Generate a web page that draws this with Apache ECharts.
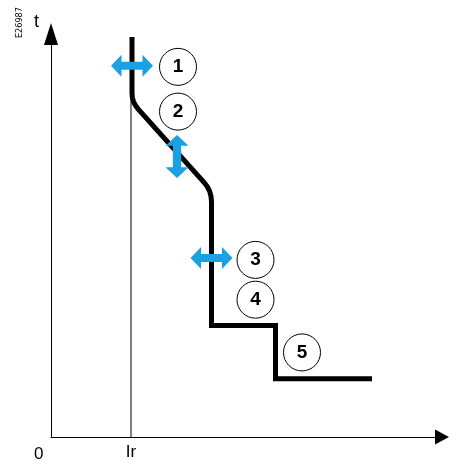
<!DOCTYPE html>
<html>
<head>
    <meta charset="utf-8">
    <title></title>
    <script src="https://cdn.jsdelivr.net/npm/echarts@6/dist/echarts.min.js"></script>
    <style>
        html, body { margin: 0; padding: 0; background: #fff; }
        #main { width: 449px; height: 461px; }
    </style>
</head>
<body>
<div id="main"></div>
<script type="text/javascript">
    // tripping curve (current, time) in chart units
    var curveX = [81, 81, 81.4, 82.5, 84.4, 87, 153.2, 156.4, 158.7, 160, 160.5, 160.5, 224.5, 224.5, 321];
    var curveY = [402, 345.5, 341.1, 337.1, 333.3, 329.8, 255.7, 251.4, 246.8, 241.8, 236.5, 112, 112, 58.5, 58.5];
    var irValue = 80;
    var irTop = 345;
    // numbered settings markers
    var markerNames = ['1', '2', '3', '4', '5'];
    var markerX = [127, 127, 204.5, 204.5, 251];
    var markerY = [372, 327, 178, 138, 85];
    // adjustment arrows: horizontal / vertical
    var hArrowX = [81, 160.5];
    var hArrowY = [373, 180];
    var vArrowX = [126];
    var vArrowY = [282];

    var blue = '#1ba1e2';
    var hArrow = 'path://M0,11 L11,0 L11,7 L33,7 L33,0 L44,11 L33,22 L33,15 L11,15 L11,22 Z';
    var vArrow = 'path://M11,0 L22,11 L15,11 L15,33 L22,33 L11,44 L0,33 L7,33 L7,11 L0,11 Z';

    function zip(xs, ys) {
        return xs.map(function (x, i) { return [x, ys[i]]; });
    }

    var chart = echarts.init(document.getElementById('main'));
    var option = {
        animation: false,
        grid: { left: 51, right: 7, top: 34, bottom: 22 },
        xAxis: {
            type: 'value',
            min: 0,
            max: 391,
            splitLine: { show: false },
            axisTick: { show: false },
            axisLine: {
                symbol: ['none', 'triangle'],
                symbolSize: [15, 14],
                lineStyle: { color: '#000', width: 1 }
            },
            axisLabel: {
                customValues: [irValue],
                formatter: function () { return 'Ir'; },
                color: '#000',
                fontSize: 17,
                fontFamily: 'Liberation Sans',
                margin: 7
            }
        },
        yAxis: {
            type: 'value',
            min: 0,
            max: 405,
            splitLine: { show: false },
            axisTick: { show: false },
            axisLabel: { show: false },
            axisLine: {
                symbol: ['none', 'triangle'],
                symbolSize: [14, 22],
                lineStyle: { color: '#000', width: 1 }
            }
        },
        graphic: [
            { type: 'text', left: 34, top: 446, style: { text: '0', fontSize: 17, fontFamily: 'Liberation Sans', fill: '#000' } },
            { type: 'text', left: 34, top: 13, style: { text: 't', fontSize: 18, fontFamily: 'Liberation Sans', fill: '#000' } },
            { type: 'text', x: 15, y: 38, rotation: Math.PI / 2, style: { text: 'E26987', fontSize: 9, fontFamily: '"DejaVu Sans Condensed", "Liberation Sans", sans-serif', fill: '#000' } }
        ],
        series: [
            {
                type: 'line',
                data: [[irValue, 0], [irValue, irTop]],
                showSymbol: false,
                lineStyle: { color: '#000', width: 1 },
                z: 1
            },
            {
                type: 'line',
                data: zip(curveX, curveY),
                showSymbol: false,
                lineStyle: { color: '#000', width: 5, cap: 'butt', join: 'miter' },
                z: 2
            },
            {
                type: 'scatter',
                data: zip(hArrowX, hArrowY),
                symbol: hArrow,
                symbolSize: [42, 22],
                itemStyle: { color: blue, opacity: 1 },
                z: 3
            },
            {
                type: 'scatter',
                data: zip(vArrowX, vArrowY),
                symbol: vArrow,
                symbolSize: [23, 43],
                itemStyle: { color: blue, opacity: 1 },
                z: 3
            },
            {
                type: 'scatter',
                data: markerNames.map(function (n, i) { return { name: n, value: [markerX[i], markerY[i]] }; }),
                symbol: 'circle',
                symbolSize: 37,
                itemStyle: { color: '#fff', borderColor: '#000', borderWidth: 1, opacity: 1 },
                label: {
                    show: true,
                    position: 'inside',
                    formatter: '{b}',
                    color: '#000',
                    fontSize: 19,
                    fontWeight: 'bold',
                    fontFamily: 'Liberation Sans'
                },
                z: 4
            }
        ]
    };
    chart.setOption(option);
    window.onresize = function () {
        chart.resize();
    };
</script>
</body>
</html>
